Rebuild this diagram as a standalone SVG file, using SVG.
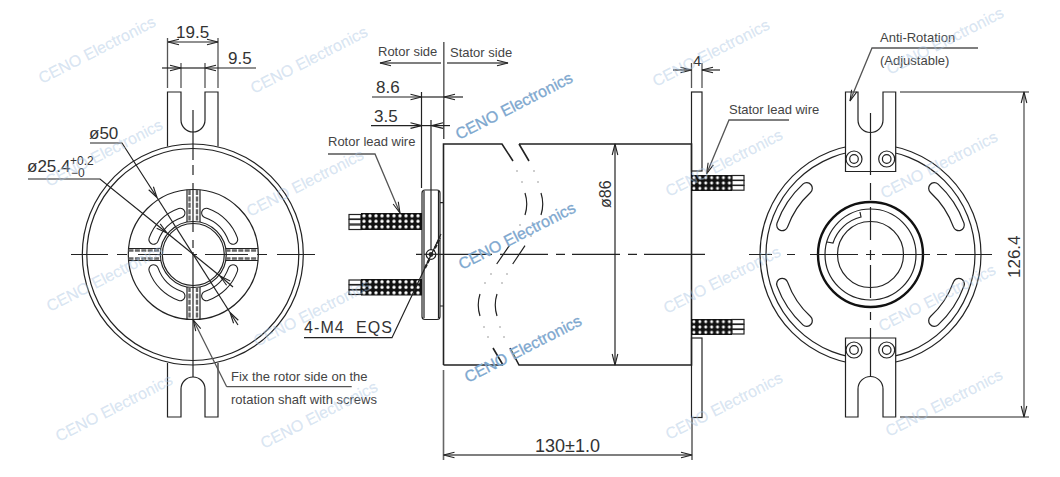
<svg xmlns="http://www.w3.org/2000/svg" width="1060" height="477" viewBox="0 0 1060 477">
<style>
.l{fill:none;stroke:#222;stroke-width:1.2}
.b{fill:none;stroke:#222;stroke-width:1.6}
.g{fill:none;stroke:#555;stroke-width:1.3}
.w{fill:#fff;stroke:#222;stroke-width:1.2}
.dim{font-family:"Liberation Sans",Arial,sans-serif;font-size:17px;fill:#333}
.lab{font-family:"Liberation Sans",Arial,sans-serif;font-size:13px;fill:#444}
.wm{font-family:"Liberation Sans",Arial,sans-serif;font-size:16px;fill:#a9c6e3;fill-opacity:.42;stroke:#a9c6e3;stroke-opacity:.3;stroke-width:.3}
.wm2{font-family:"Liberation Sans",Arial,sans-serif;font-size:16px;fill:#7ea8cf;stroke:#7ea8cf;stroke-width:.3}
.pad{fill:none;stroke:#666;stroke-width:2.4;stroke-dasharray:5 1.4}
.so{fill:none;stroke:#222;stroke-linecap:round;stroke-width:10.5}
.si{fill:none;stroke:#fff;stroke-linecap:round;stroke-width:8.3}
.so2{fill:none;stroke:#222;stroke-linecap:round;stroke-width:12.5}
.si2{fill:none;stroke:#fff;stroke-linecap:round;stroke-width:10}
.dot{fill:#777}
</style>
<defs>
<marker id="a" markerUnits="userSpaceOnUse" markerWidth="14" markerHeight="8" refX="12" refY="4" orient="auto-start-reverse"><path d="M1 1.2L12 4L1 6.8" fill="none" stroke="#222" stroke-width="1.1"/></marker>
<pattern id="wr" patternUnits="userSpaceOnUse" x="361" y="213" width="6" height="5.5"><rect width="6" height="5.5" fill="#111"/><circle cx="3" cy="2.75" r="1.7" fill="#fff"/></pattern>
<pattern id="ws" patternUnits="userSpaceOnUse" x="691" y="175" width="5.9" height="5.333"><rect width="5.9" height="5.333" fill="#111"/><circle cx="2.95" cy="2.67" r="1.5" fill="#fff"/></pattern>
</defs>

<g id="left-view">
<circle class="l" cx="192.8" cy="254.5" r="110.5"/>
<circle class="l" cx="192.8" cy="254.5" r="106"/>
<path class="l" d="M167.5 146.500V92H181V120A12 12 0 0 0 205 120V92H218V146.500"/>
<path class="l" d="M167.500 363V417H181V389A12 12 0 0 1 205 389V417H218V363"/>
<circle class="l" cx="193.300" cy="254.500" r="65"/>
<g id="left-slots">
<path class="so" d="M153.600 239.500A43.500 43.500 0 0 1 180.300 213"/><path class="si" d="M153.600 239.500A43.500 43.500 0 0 1 180.300 213"/>
<path class="so" d="M206.300 213A43.500 43.500 0 0 1 233 239.500"/><path class="si" d="M206.300 213A43.500 43.500 0 0 1 233 239.500"/>
<path class="so" d="M153.600 269.500A43.500 43.500 0 0 0 180.300 296"/><path class="si" d="M153.600 269.500A43.500 43.500 0 0 0 180.300 296"/>
<path class="so" d="M206.300 296A43.500 43.500 0 0 0 233 269.500"/><path class="si" d="M206.300 296A43.500 43.500 0 0 0 233 269.500"/>
</g>
<circle class="l" cx="193.300" cy="254.500" r="33"/>
<circle class="l" cx="193.300" cy="254.500" r="31"/>
<g id="left-pads">
<path class="pad" d="M189.500 190V222M197 190V222M189.500 287V319M197 287V319"/>
<path class="pad" d="M128.500 250.500H161M128.500 258.500H161M225.500 250.500H258M225.500 258.500H258"/>
<path class="l" d="M187 190V222M200 190V222M187 287V319M200 287V319M128.500 248.500H161M128.500 260.500H161M225.500 248.500H258M225.500 260.500H258"/>
</g>
<path class="l" d="M71 254.500H108M117 254.500H127M138 254.500H182M192 254.500H197M205 254.500H248M257 254.500H267M277 254.500H315"/>
<path class="l" d="M193 110V160M193 165V175M193 183V232M193 240V248M193 252V377"/>
</g>

<g id="middle-view">
<rect class="w" x="691.500" y="92" width="10.500" height="79"/>
<rect class="w" x="691.500" y="338" width="10.500" height="79.500"/>
<path class="b" d="M443.500 365V144H502L513 161M519 144L529 161M519 144H691.500V365H519L510 348M503 365H443.500M503 365L493 348"/>
<path class="l" d="M525 193Q528.500 204 525 215M541 193Q544.500 204 541 215M480 294Q476.500 305 480 316M497 294Q493.500 305 497 316"/>
<path class="l" d="M496.700 264L509.300 245.700M512.700 264L525 245.700"/>
<g id="break-dots">
<circle class="dot" cx="517" cy="171" r=".7"/><circle class="dot" cx="534" cy="171" r=".7"/><circle class="dot" cx="522" cy="182" r=".7"/><circle class="dot" cx="538" cy="182" r=".7"/><circle class="dot" cx="520" cy="225" r=".7"/><circle class="dot" cx="531" cy="236" r=".7"/><circle class="dot" cx="491" cy="274" r=".7"/><circle class="dot" cx="507" cy="274" r=".7"/><circle class="dot" cx="485" cy="283" r=".7"/><circle class="dot" cx="502" cy="283" r=".7"/><circle class="dot" cx="484" cy="327" r=".7"/><circle class="dot" cx="500" cy="327" r=".7"/><circle class="dot" cx="488" cy="337" r=".7"/><circle class="dot" cx="504" cy="337" r=".7"/>
</g>
<path class="l" d="M416 254.300H492M500 254.300H548M556 254.300H565M572 254.300H620M628 254.300H637M644 254.300H705"/>
<g id="rotor-flange">
<rect class="w" x="422" y="190" width="18" height="129.500" rx="3" stroke-width="1.800"/>
<path class="l" d="M424 191V318M438.500 191V318M440 202.700H443.500M440 306H443.500"/>
<path class="l" d="M431 120V250"/>
<path fill="none" stroke="#222" stroke-width="2.200" stroke-dasharray="4 1.500" d="M425 268L440 238"/>
<circle class="w" cx="431" cy="254.500" r="4.800"/>
<circle cx="431" cy="254.500" r="2.400" fill="#333"/>
<path class="l" d="M424 254.300H440"/>
</g>
<g id="rotor-wire-top">
<rect class="w" x="349" y="214.500" width="12" height="4.500"/><rect class="w" x="349" y="219.500" width="12" height="4.500"/><rect class="w" x="349" y="225" width="12" height="4.500"/>
<rect x="361" y="213" width="61" height="17" fill="url(#wr)"/>
</g>
<g id="rotor-wire-bottom">
<rect class="w" x="349" y="280" width="12" height="4.500"/><rect class="w" x="349" y="285" width="12" height="4.500"/><rect class="w" x="349" y="290" width="12" height="4.500"/>
<rect x="361" y="279" width="61" height="16.500" fill="url(#wr)"/>
</g>
<g id="stator-wire-top">
<rect class="w" x="732" y="175.500" width="12" height="4.700"/><rect class="w" x="732" y="180.500" width="12" height="4.700"/><rect class="w" x="732" y="185.500" width="12" height="4.700"/>
<rect x="691" y="175" width="41" height="16" fill="url(#ws)"/>
</g>
<g id="stator-wire-bottom">
<rect class="w" x="732" y="319.500" width="12" height="4.500"/><rect class="w" x="732" y="324.500" width="12" height="4.500"/><rect class="w" x="732" y="329.500" width="12" height="4.500"/>
<rect x="691" y="319" width="41" height="16" fill="url(#ws)"/>
</g>
</g>

<g id="right-view">
<circle class="l" cx="870.500" cy="254.500" r="110.500"/>
<circle class="l" cx="870.500" cy="254.500" r="104.500"/>
<g id="right-slots">
<path class="so2" d="M806.700 188.300A92.500 92.500 0 0 0 782.300 225"/><path class="si2" d="M806.700 188.300A92.500 92.500 0 0 0 782.300 225"/>
<path class="so2" d="M934.300 188.300A92.500 92.500 0 0 1 958.700 225"/><path class="si2" d="M934.300 188.300A92.500 92.500 0 0 1 958.700 225"/>
<path class="so2" d="M806.700 320.700A92.500 92.500 0 0 1 782.300 284"/><path class="si2" d="M806.700 320.700A92.500 92.500 0 0 1 782.300 284"/>
<path class="so2" d="M934.300 320.700A92.500 92.500 0 0 0 958.700 284"/><path class="si2" d="M934.300 320.700A92.500 92.500 0 0 0 958.700 284"/>
</g>
<circle fill="none" stroke="#111" stroke-width="2.400" cx="870.500" cy="254.500" r="52.500"/>
<circle class="l" cx="870.500" cy="254.500" r="45.500"/>
<circle class="l" cx="870.500" cy="254.500" r="33"/>
<path class="l" d="M860 212L861 217A39 39 0 0 0 833 243L827 242"/>
<g id="fork-top">
<path class="w" d="M845.500 92H858V120A12.500 12.500 0 0 0 883 120V92H895.700V171.500H845.500Z"/>
<circle class="l" cx="854" cy="159" r="8"/><circle class="l" cx="854" cy="159" r="4.300"/>
<circle class="l" cx="886.700" cy="159" r="8"/><circle class="l" cx="886.700" cy="159" r="4.300"/>
</g>
<g id="fork-bottom">
<path class="w" d="M845.500 417H858V389A12.500 12.500 0 0 1 883 389V417H895.700V338H845.500Z"/>
<circle class="l" cx="854" cy="350" r="8"/><circle class="l" cx="854" cy="350" r="4.300"/>
<circle class="l" cx="886.700" cy="350" r="8"/><circle class="l" cx="886.700" cy="350" r="4.300"/>
</g>
<path class="l" d="M749 254.500H772M787 254.500H795M810 254.500H858M866 254.500H875M882 254.500H930M937 254.500H947M955 254.500H992"/>
<path class="l" d="M870.500 113V175M870.500 183V200M870.500 207V240M870.500 250V260M870.500 265V298M870.500 312V320M870.500 328V377"/>
</g>

<g id="connectors">
<path class="g" d="M167.500 38V88M218 38V88M181 63V88M205 63V88"/>
<path class="l" d="M168 42H218" marker-start="url(#a)" marker-end="url(#a)"/>
<path class="l" d="M162 68H181" marker-end="url(#a)"/>
<path class="l" d="M256 68H205" marker-end="url(#a)"/>
<path class="l" d="M181 68H205"/>
<path class="l" d="M90 143H122L157 197.500" marker-end="url(#a)"/>
<path class="l" d="M157 197.500L230 312.500"/>
<path class="l" d="M238 325L230 312.500" marker-end="url(#a)"/>
<path class="l" d="M28 179H100L167 233" marker-end="url(#a)"/>
<path class="l" d="M167 233L220 276"/>
<path class="l" d="M233 287L220 276" marker-end="url(#a)"/>
<path class="g" d="M226.700 386.700L193.300 320" marker-end="url(#a)"/>
<path class="g" d="M226.700 386.700H351.700"/>
<path d="M443.800 42V100" fill="none" stroke="#666" stroke-width="1.600"/>
<path class="l" d="M443.800 100V139"/>
<path class="g" d="M441 63H380" marker-end="url(#a)"/>
<path class="g" d="M447 63H508" marker-end="url(#a)"/>
<path class="l" d="M421.500 92V188"/>
<path class="l" d="M372 97H421.500" marker-end="url(#a)"/>
<path class="l" d="M421.500 97H444"/>
<path class="l" d="M463 97H444" marker-end="url(#a)"/>
<path class="l" d="M371 125.600H421.500" marker-end="url(#a)"/>
<path class="l" d="M421.500 125.600H432"/>
<path class="l" d="M450 125.600H432" marker-end="url(#a)"/>
<path class="g" d="M328 154H375L400 213" marker-end="url(#a)"/>
<path class="l" d="M304 337.700H392L441 234"/>
<path d="M443.500 370V460M692 417V460" fill="none" stroke="#666" stroke-width="1.600"/>
<path class="g" d="M443.500 455H692" marker-start="url(#a)" marker-end="url(#a)"/>
<path class="l" d="M615 144V365" marker-start="url(#a)" marker-end="url(#a)"/>
<path class="g" d="M691.500 63V88M702 63V88"/>
<path class="l" d="M673 70H691.500" marker-end="url(#a)"/>
<path class="l" d="M720 70H702" marker-end="url(#a)"/>
<path class="g" d="M789 120H729L706.500 174" marker-end="url(#a)"/>
<path class="g" d="M978 48H872L850 101" marker-end="url(#a)"/>
<path class="l" d="M900 92H1029M900 417H1029"/>
<path class="g" d="M1024 92V417" marker-start="url(#a)" marker-end="url(#a)"/>
</g>

<g id="labels">
<text class="dim" x="176" y="38">19.5</text>
<text class="dim" x="228" y="64">9.5</text>
<text class="dim" x="89" y="139">ø50</text>
<text class="dim" x="27" y="172">ø25.4</text>
<text class="dim" x="70" y="165" style="font-size:12px">+0.2</text>
<text class="dim" x="71" y="177" style="font-size:12px">−0</text>
<text class="lab" x="378" y="56">Rotor side</text>
<text class="lab" x="450" y="57">Stator side</text>
<text class="dim" x="376" y="92.700">8.6</text>
<text class="dim" x="374" y="122">3.5</text>
<text class="lab" x="328" y="146">Rotor lead wire</text>
<text class="dim" x="304" y="333" xml:space="preserve" style="font-size:16px;letter-spacing:1.1px">4-M4  EQS</text>
<text class="lab" x="231" y="381">Fix the rotor side on the</text>
<text class="lab" x="231" y="404">rotation shaft with screws</text>
<text class="dim" x="535" y="452" style="font-size:18px">130±1.0</text>
<text class="dim" transform="rotate(-90 611 208)" x="611" y="208" style="font-size:16px">ø86</text>
<text class="dim" x="693" y="66" style="font-size:15px">4</text>
<text class="lab" x="729" y="114">Stator lead wire</text>
<text class="lab" x="880" y="42">Anti-Rotation</text>
<text class="lab" x="880" y="65">(Adjustable)</text>
<text class="dim" transform="rotate(-90 1020 278)" x="1020" y="278">126.4</text>
</g>

<g id="watermarks">
<text class="wm" transform="rotate(-27 42 84)" x="42" y="84">CENO Electronics</text>
<text class="wm" transform="rotate(-27 254 94)" x="254" y="94">CENO Electronics</text>
<text class="wm" transform="rotate(-27 49 187)" x="49" y="187">CENO Electronics</text>
<text class="wm" transform="rotate(-27 250 217)" x="250" y="217">CENO Electronics</text>
<text class="wm" transform="rotate(-27 50 312)" x="50" y="312">CENO Electronics</text>
<text class="wm" transform="rotate(-27 257 347)" x="257" y="347">CENO Electronics</text>
<text class="wm" transform="rotate(-27 59 442)" x="59" y="442">CENO Electronics</text>
<text class="wm" transform="rotate(-27 264 449)" x="264" y="449">CENO Electronics</text>
<text class="wm2" transform="rotate(-27 459 140)" x="459" y="140">CENO Electronics</text>
<text class="wm2" transform="rotate(-27 462 270)" x="462" y="270">CENO Electronics</text>
<text class="wm2" transform="rotate(-27 468 383)" x="468" y="383">CENO Electronics</text>
<text class="wm" transform="rotate(-27 656 87)" x="656" y="87">CENO Electronics</text>
<text class="wm" transform="rotate(-27 669 197)" x="669" y="197">CENO Electronics</text>
<text class="wm" transform="rotate(-27 667 314)" x="667" y="314">CENO Electronics</text>
<text class="wm" transform="rotate(-27 669 440)" x="669" y="440">CENO Electronics</text>
<text class="wm" transform="rotate(-27 890 75)" x="890" y="75">CENO Electronics</text>
<text class="wm" transform="rotate(-27 884 199)" x="884" y="199">CENO Electronics</text>
<text class="wm" transform="rotate(-27 882 332)" x="882" y="332">CENO Electronics</text>
<text class="wm" transform="rotate(-27 889 437)" x="889" y="437">CENO Electronics</text>
</g>
</svg>
